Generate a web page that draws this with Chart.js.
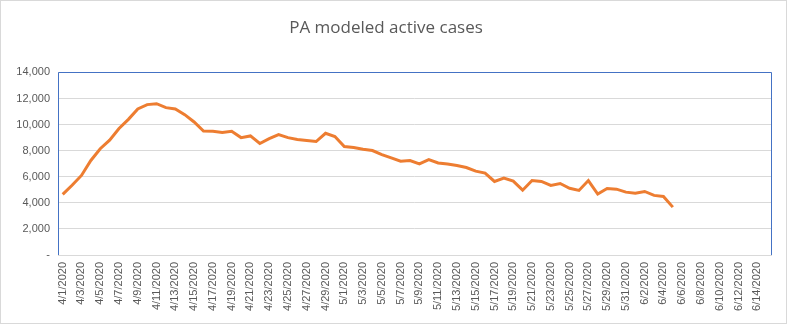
<!DOCTYPE html>
<html>
<head>
<meta charset="utf-8">
<script src="https://cdn.jsdelivr.net/npm/chart.js@4"></script>
<style>
html,body{margin:0;padding:0;background:#fff;}
canvas{display:block;}
</style>
</head>
<body>
<canvas id="c" width="787" height="324"></canvas>
<script>
// Categories: 4/1/2020 .. 6/15/2020
const categories = [
 "4/1/2020","4/2/2020","4/3/2020","4/4/2020","4/5/2020","4/6/2020","4/7/2020","4/8/2020","4/9/2020","4/10/2020",
 "4/11/2020","4/12/2020","4/13/2020","4/14/2020","4/15/2020","4/16/2020","4/17/2020","4/18/2020","4/19/2020","4/20/2020",
 "4/21/2020","4/22/2020","4/23/2020","4/24/2020","4/25/2020","4/26/2020","4/27/2020","4/28/2020","4/29/2020","4/30/2020",
 "5/1/2020","5/2/2020","5/3/2020","5/4/2020","5/5/2020","5/6/2020","5/7/2020","5/8/2020","5/9/2020","5/10/2020",
 "5/11/2020","5/12/2020","5/13/2020","5/14/2020","5/15/2020","5/16/2020","5/17/2020","5/18/2020","5/19/2020","5/20/2020",
 "5/21/2020","5/22/2020","5/23/2020","5/24/2020","5/25/2020","5/26/2020","5/27/2020","5/28/2020","5/29/2020","5/30/2020",
 "5/31/2020","6/1/2020","6/2/2020","6/3/2020","6/4/2020","6/5/2020","6/6/2020","6/7/2020","6/8/2020","6/9/2020",
 "6/10/2020","6/11/2020","6/12/2020","6/13/2020","6/14/2020","6/15/2020"
];
// Modeled active cases; null after 6/5
const activeCases = [
 4650, 5350, 6100, 7250, 8150, 8800, 9700, 10400, 11200, 11530,
 11600, 11300, 11200, 10760, 10200, 9500, 9480, 9400, 9480, 9000,
 9130, 8550, 8920, 9230, 9000, 8850, 8770, 8700, 9330, 9080,
 8310, 8240, 8110, 8010, 7700, 7440, 7190, 7240, 6980, 7320,
 7060, 6980, 6860, 6710, 6430, 6280, 5640, 5890, 5660, 4970,
 5710, 5640, 5330, 5480, 5120, 4950, 5710, 4670, 5100, 5050,
 4820, 4740, 4870, 4570, 4490, 3670, null, null, null, null,
 null, null, null, null, null, null
];
const yTicks = [0, 2000, 4000, 6000, 8000, 10000, 12000, 14000];

const frame = {
  id: 'frame',
  beforeDraw(chart) {
    const ctx = chart.ctx;
    ctx.save();
    ctx.fillStyle = '#ffffff';
    ctx.fillRect(0, 0, chart.width, chart.height);
    ctx.strokeStyle = '#d9d9d9';
    ctx.lineWidth = 1;
    ctx.strokeRect(0.5, 0.5, chart.width - 1, chart.height - 1);
    ctx.restore();
  },
  afterDraw(chart) {
    const a = chart.chartArea, ctx = chart.ctx;
    ctx.save();
    ctx.strokeStyle = '#4472c4';
    ctx.lineWidth = 1;
    ctx.beginPath();
    ctx.moveTo(Math.round(a.left) + 0.5, Math.round(a.bottom));
    ctx.lineTo(Math.round(a.left) + 0.5, Math.round(a.top) + 0.5);
    ctx.lineTo(Math.round(a.right) + 0.5, Math.round(a.top) + 0.5);
    ctx.lineTo(Math.round(a.right) + 0.5, Math.round(a.bottom));
    ctx.stroke();
    ctx.restore();
  }
};

new Chart(document.getElementById('c'), {
  type: 'line',
  data: {
    labels: categories,
    datasets: [{
      label: 'Active cases',
      data: activeCases,
      borderColor: '#ed7d31',
      borderWidth: 3,
      pointRadius: 0,
      tension: 0,
      fill: false,
      spanGaps: false
    }]
  },
  options: {
    responsive: false,
    animation: false,
    layout: { padding: { left: 0, right: 15, top: 0, bottom: 0 } },
    plugins: {
      legend: { display: false },
      tooltip: { enabled: false },
      title: {
        display: true,
        text: 'PA modeled active cases',
        color: '#595959',
        font: { family: 'Open Sans', size: 17, weight: 'normal' },
        padding: { top: 18, bottom: 34 }
      }
    },
    scales: {
      x: {
        offset: true,
        grid: { display: false, drawTicks: false },
        border: { color: '#d9d9d9' },
        ticks: {
          autoSkip: false,
          maxRotation: 90,
          minRotation: 90,
          padding: 7,
          color: '#595959',
          font: { family: 'Liberation Sans', size: 11 },
          callback: function(v, i) { return i % 2 === 0 ? categories[i] : ''; }
        },
        afterFit(s) { s.height = 69; }
      },
      y: {
        min: 0,
        max: 14000,
        afterBuildTicks(s) { s.ticks = yTicks.map(v => ({ value: v })); },
        grid: { color: '#d9d9d9', drawTicks: false },
        border: { display: false },
        ticks: {
          padding: 8,
          color: '#595959',
          font: { family: 'Liberation Sans', size: 11 },
          callback: v => v === 0 ? '-' : v.toLocaleString('en-US')
        },
        afterFit(s) { s.width = 58; }
      }
    }
  },
  plugins: [frame]
});
</script>
</body>
</html>
